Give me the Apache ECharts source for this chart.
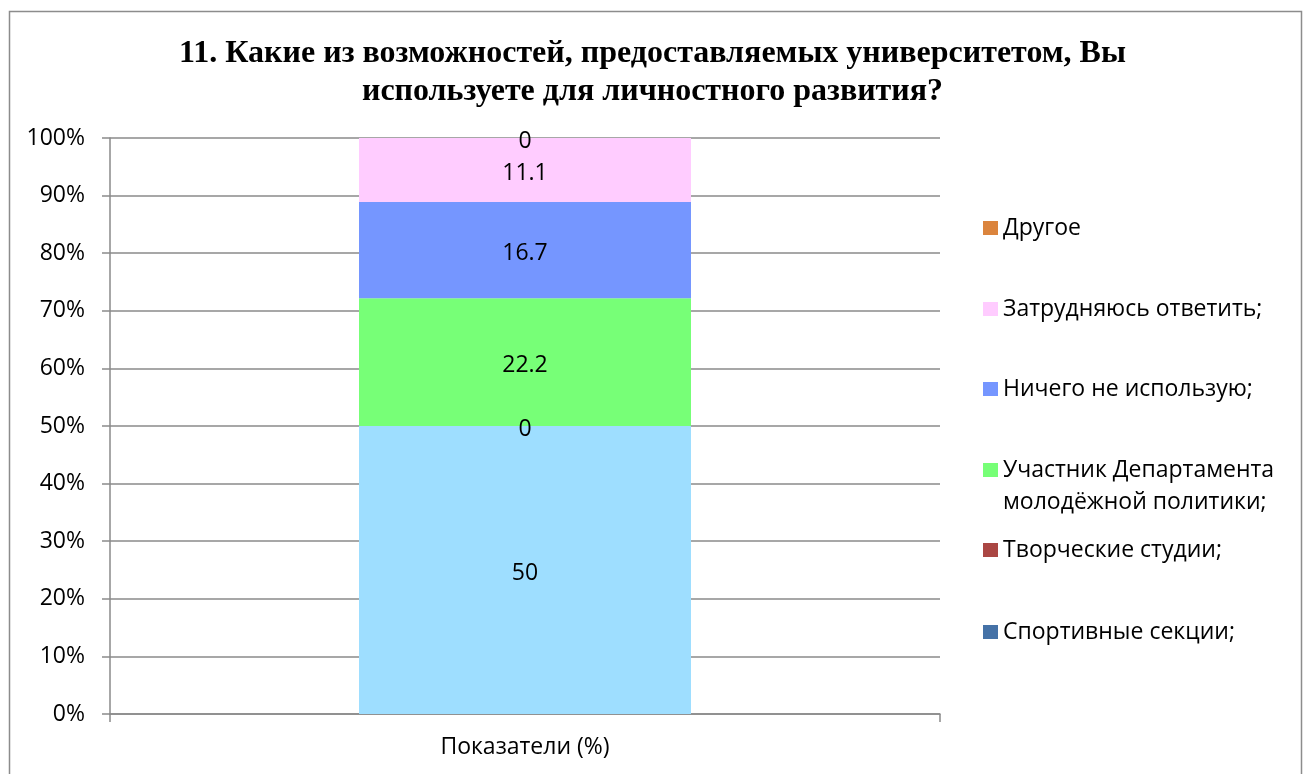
<!DOCTYPE html>
<html><head><meta charset="utf-8">
<script src="https://cdn.jsdelivr.net/npm/echarts@6/dist/echarts.min.js"></script>
<style>html,body{margin:0;padding:0;background:#fff}#c{width:1305px;height:774px}</style>
</head><body><div id="c"></div>
<script>
const titleText = "11. Какие из возможностей, предоставляемых университетом, Вы\nиспользуете для личностного развития?";
const categories = ["Показатели (%)"];
const seriesNames = ["Спортивные секции;", "Творческие студии;", "Участник Департамента\nмолодёжной политики;", "Ничего не использую;", "Затрудняюсь ответить;", "Другое"];
const seriesValues = [[50], [0], [22.2], [16.7], [11.1], [0]];
const barColors = ["#9EDEFF", "#AA4643", "#77FF77", "#7596FF", "#FFCCFF", "#DB843D"];
const legendColors = ["#4572A7", "#AA4643", "#77FF77", "#7596FF", "#FFCCFF", "#DB843D"];
const yTicks = [0, 10, 20, 30, 40, 50, 60, 70, 80, 90, 100];

const FONT = "Open Sans";
const FS = 23;
const legendCenters = [632, 550, 470, 389, 309, 228];
const legends = seriesNames.map((n, i) => ({
  orient: 'vertical', left: 983, top: legendCenters[i] - 15, padding: 0,
  itemWidth: 15, itemHeight: 14, icon: 'rect',
  data: [{ name: n, itemStyle: { color: legendColors[i] } }],
  formatter: (name) => name.split('\n')[0],
  textStyle: { fontFamily: FONT, fontSize: FS, color: '#000', lineHeight: 30 },
  selectedMode: false
}));

const chart = echarts.init(document.getElementById('c'), null, { renderer: 'canvas' });
chart.setOption({
  animation: false,
  backgroundColor: '#fff',
  title: {
    text: titleText, left: 'center', top: 30,
    textStyle: { fontFamily: 'Liberation Serif', fontWeight: 'bold', fontSize: 32, color: '#000', lineHeight: 38 }
  },
  legend: legends,
  graphic: [
    { type: 'rect', shape: { x: 9.5, y: 11.5, width: 1292, height: 800 }, style: { fill: 'none', stroke: '#8c8c8c', lineWidth: 1.5 }, silent: true, z: -1 },
    { type: 'text', left: 1003, top: 502 - 15, style: { text: seriesNames[2].split('\n')[1], font: FS + 'px "Open Sans"', fill: '#000', lineHeight: 30, verticalAlign: 'top' } }
  ],
  grid: { left: 110, right: 365, top: 138, bottom: 60, containLabel: false },
  xAxis: {
    type: 'category', data: categories,
    axisLine: { lineStyle: { color: '#8a8a8a', width: 1.5 } },
    axisTick: { show: true, length: 8, lineStyle: { color: '#8a8a8a', width: 1.5 } },
    axisLabel: { fontFamily: FONT, fontSize: FS, color: '#000', margin: 22 }
  },
  yAxis: {
    type: 'value', min: 0, max: 100, interval: 10,
    axisLine: { show: true, lineStyle: { color: '#8a8a8a', width: 1.5 } },
    axisTick: { show: true, length: 8, lineStyle: { color: '#8a8a8a', width: 1.5 } },
    axisLabel: { fontFamily: FONT, fontSize: FS, color: '#000', margin: 25, formatter: v => yTicks.includes(v) ? v + '%' : '' },
    splitLine: { show: true, lineStyle: { color: '#8a8a8a', width: 1.5 } }
  },
  series: seriesNames.map((n, i) => ({
    name: n, type: 'bar', stack: 'total', barWidth: '40%',
    data: seriesValues[i],
    itemStyle: { color: barColors[i] },
    label: { show: true, position: 'inside', offset: [0, 3], fontFamily: FONT, fontSize: FS, color: '#000', formatter: p => String(p.value) }
  }))
});
</script></body></html>
